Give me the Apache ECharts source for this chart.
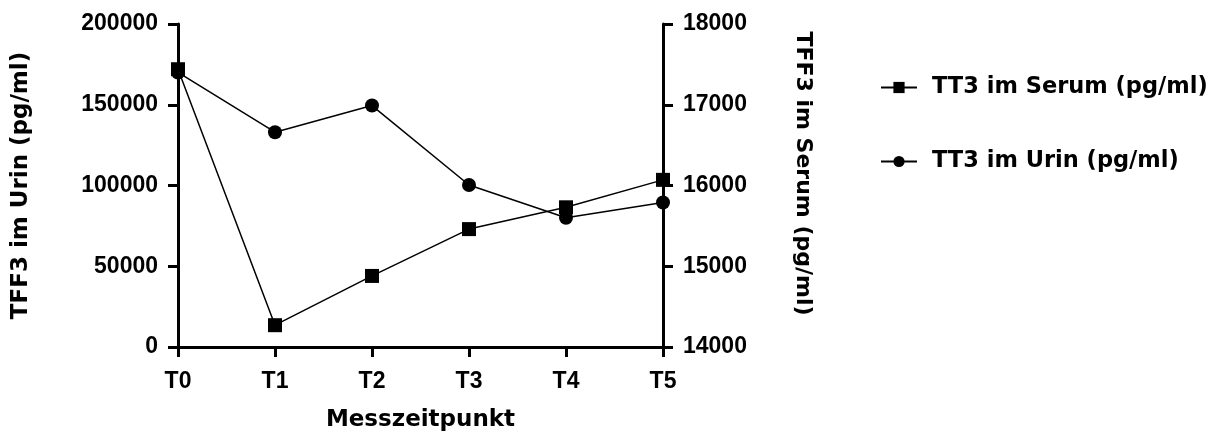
<!DOCTYPE html>
<html>
<head>
<meta charset="utf-8">
<script src="https://cdn.jsdelivr.net/npm/echarts@6/dist/echarts.min.js"></script>
<style>
html,body{margin:0;padding:0;background:#fff;}
#main{width:1216px;height:433px;}
</style>
</head>
<body>
<div id="main"></div>
<script>
var arrCategory = ['T0', 'T1', 'T2', 'T3', 'T4', 'T5'];           //Messzeitpunkt
var arrSerum = [17440, 14270, 14880, 15460, 15730, 16070];         //TT3 im Serum, rechte Achse
var arrUrin = [170000, 133000, 149500, 100300, 80000, 89500];      //TT3 im Urin, linke Achse

var nameSerum = 'TT3 im Serum (pg/ml)';
var nameUrin = 'TT3 im Urin (pg/ml)';

var fontTick = '"Liberation Sans", Arial, sans-serif';
var fontName = '"DejaVu Sans", sans-serif';

function echaChart(id){
    var myChart = echarts.init(document.getElementById(id));
    var axisLine = { show: true, lineStyle: { color: '#000', width: 3 } };
    var axisTick = { show: true, length: 10, lineStyle: { color: '#000', width: 3 } };
    var tickLabel = {
        color: '#000', fontSize: 23, fontWeight: 'bold', fontFamily: fontTick, margin: 20,
        formatter: function (v) { return String(v); }
    };
    var nameStyle = { color: '#000', fontSize: 23, fontWeight: 'bold', fontFamily: fontName };
    var option = {
        animation: false,
        grid: {
            left: 178,
            right: 553,
            top: 24,
            bottom: 86,
            outerBoundsMode: 'none'
        },
        legend: {
            orient: 'vertical',
            left: 875,
            top: 71,
            itemWidth: 36,
            itemHeight: 14,
            itemGap: 51,
            textStyle: { color: '#000', fontSize: 22.5, fontWeight: 'bold', fontFamily: fontName, padding: [0, 0, 0, 10] },
            data: [nameSerum, nameUrin]
        },
        xAxis: {
            type: 'category',
            boundaryGap: false,
            data: arrCategory,
            name: 'Messzeitpunkt',
            nameLocation: 'middle',
            nameGap: 62,
            nameTextStyle: nameStyle,
            axisLine: axisLine,
            axisTick: axisTick,
            axisLabel: { color: '#000', fontSize: 23, fontWeight: 'bold', fontFamily: fontTick, margin: 23 },
            splitLine: { show: false }
        },
        yAxis: [
            {
                type: 'value',
                position: 'left',
                min: 0,
                max: 200000,
                interval: 50000,
                name: 'TFF3 im Urin (pg/ml)',
                nameLocation: 'middle',
                nameGap: 145,
                nameTextStyle: nameStyle,
                axisLine: axisLine,
                axisTick: axisTick,
                axisLabel: tickLabel,
                splitLine: { show: false }
            },
            {
                type: 'value',
                position: 'right',
                min: 14000,
                max: 18000,
                interval: 1000,
                name: 'TFF3 im Serum (pg/ml)',
                nameLocation: 'middle',
                nameRotate: -90,
                nameGap: 129,
                nameTextStyle: {
                    color: '#000', fontSize: 22, fontWeight: 'bold', fontFamily: fontName,
                    padding: [0, 24, 0, 0]
                },
                axisLine: axisLine,
                axisTick: axisTick,
                axisLabel: tickLabel,
                splitLine: { show: false }
            }
        ],
        series: [
            {
                name: nameSerum,
                type: 'line',
                yAxisIndex: 1,
                data: arrSerum,
                symbol: 'rect',
                symbolSize: 14,
                color: '#000',
                lineStyle: { color: '#000', width: 1.5 },
                itemStyle: { color: '#000' }
            },
            {
                name: nameUrin,
                type: 'line',
                yAxisIndex: 0,
                data: arrUrin,
                symbol: 'circle',
                symbolSize: 14,
                color: '#000',
                lineStyle: { color: '#000', width: 1.5 },
                itemStyle: { color: '#000' }
            }
        ]
    };
    myChart.setOption(option);
}

echaChart('main');
</script>
</body>
</html>
